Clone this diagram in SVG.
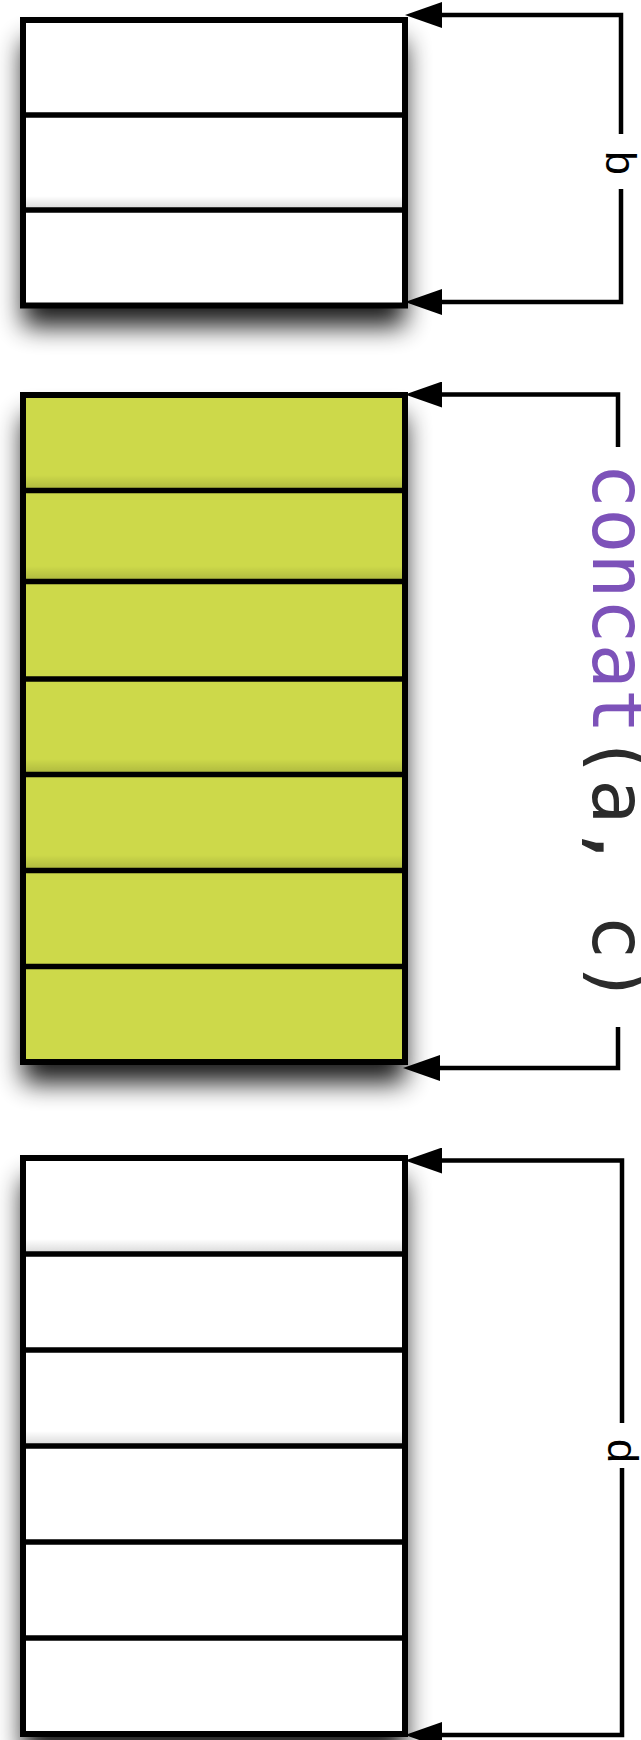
<svg xmlns="http://www.w3.org/2000/svg" width="641" height="1740" viewBox="0 0 641 1740">
  <style>
    .frame { fill: none; stroke: #000; stroke-width: 6; stroke-linejoin: miter; }
    .div { stroke: #000; stroke-width: 5.5; }
    .plain { fill: #ffffff; }
    .lime { fill: #cdd94a; }
    .fold { fill: url(#fold); }
    .bracket { fill: none; stroke: #000; stroke-width: 4.5; marker-end: url(#head); }
    .dim { font-family: "Liberation Sans", Arial, sans-serif; font-size: 43px; fill: #000; }
    .code { font-family: "DejaVu Sans Mono", monospace; font-size: 75px; }
  </style>
  <defs>
    <filter id="drop" x="-30%" y="-30%" width="160%" height="160%">
      <feGaussianBlur in="SourceAlpha" stdDeviation="13"/>
      <feOffset dy="21" result="b"/>
      <feComponentTransfer><feFuncA type="linear" slope="0.9"/></feComponentTransfer>
    </filter>
    <linearGradient id="fold" x1="0" y1="0" x2="0" y2="1">
      <stop offset="0" stop-color="#000" stop-opacity="0"/>
      <stop offset="1" stop-color="#000" stop-opacity="0.16"/>
    </linearGradient>
    <marker id="head" markerUnits="userSpaceOnUse" markerWidth="37" markerHeight="26" refX="26" refY="13" orient="auto">
      <path d="M0,0 L37,13 L0,26 z" fill="#000"/>
    </marker>
  </defs>

  <!-- array b : three slots -->
  <g id="box-b">
    <rect x="23" y="20" width="382" height="285.5" fill="#000" filter="url(#drop)"/>
    <rect class="plain" x="23" y="20" width="382" height="285.5"/>
    <rect class="fold" x="23" y="196" width="382" height="14"/>
    <line class="div" x1="23" y1="115" x2="405" y2="115"/>
    <line class="div" x1="23" y1="210" x2="405" y2="210"/>
    <rect class="frame" x="23" y="20" width="382" height="285.5"/>
  </g>

  <!-- result of concat(a, c) : seven slots -->
  <g id="box-concat">
    <rect x="23" y="395" width="382" height="667" fill="#000" filter="url(#drop)"/>
    <rect class="lime" x="23" y="395" width="382" height="667"/>
    <rect class="fold" x="23" y="475" width="382" height="15"/>
    <rect class="fold" x="23" y="566" width="382" height="15"/>
    <rect class="fold" x="23" y="759" width="382" height="15"/>
    <rect class="fold" x="23" y="855" width="382" height="15"/>
    <line class="div" x1="23" y1="490.5" x2="405" y2="490.5"/>
    <line class="div" x1="23" y1="581.5" x2="405" y2="581.5"/>
    <line class="div" x1="23" y1="679" x2="405" y2="679"/>
    <line class="div" x1="23" y1="774.5" x2="405" y2="774.5"/>
    <line class="div" x1="23" y1="870.5" x2="405" y2="870.5"/>
    <line class="div" x1="23" y1="966.5" x2="405" y2="966.5"/>
    <rect class="frame" x="23" y="395" width="382" height="667"/>
  </g>

  <!-- array d : six slots -->
  <g id="box-d">
    <rect x="23" y="1158" width="382" height="576" fill="#000" filter="url(#drop)"/>
    <rect class="plain" x="23" y="1158" width="382" height="576"/>
    <rect class="fold" x="23" y="1239" width="382" height="15"/>
    <rect class="fold" x="23" y="1431" width="382" height="15"/>
    <line class="div" x1="23" y1="1254" x2="405" y2="1254"/>
    <line class="div" x1="23" y1="1350" x2="405" y2="1350"/>
    <line class="div" x1="23" y1="1446" x2="405" y2="1446"/>
    <line class="div" x1="23" y1="1542" x2="405" y2="1542"/>
    <line class="div" x1="23" y1="1638" x2="405" y2="1638"/>
    <rect class="frame" x="23" y="1158" width="382" height="576"/>
  </g>

  <!-- size brackets -->
  <g id="connectors">
    <path class="bracket" d="M621,134 V15 H416"/>
    <path class="bracket" d="M621,189 V302 H416"/>
    <path class="bracket" d="M618,447 V394.5 H416"/>
    <path class="bracket" d="M618,1027 V1068 H414"/>
    <path class="bracket" d="M622,1423 V1160.5 H416"/>
    <path class="bracket" d="M622,1468 V1735 H416"/>
  </g>

  <!-- bracket labels -->
  <g id="labels">
    <text class="dim" transform="translate(606,163) rotate(90)" text-anchor="middle">b</text>
    <text class="code" transform="translate(593,463) rotate(90)"><tspan fill="#7d52b9">concat</tspan><tspan fill="#2b2b2b">(a, c)</tspan></text>
    <text class="dim" transform="translate(608,1451) rotate(90)" text-anchor="middle">d</text>
  </g>
</svg>
